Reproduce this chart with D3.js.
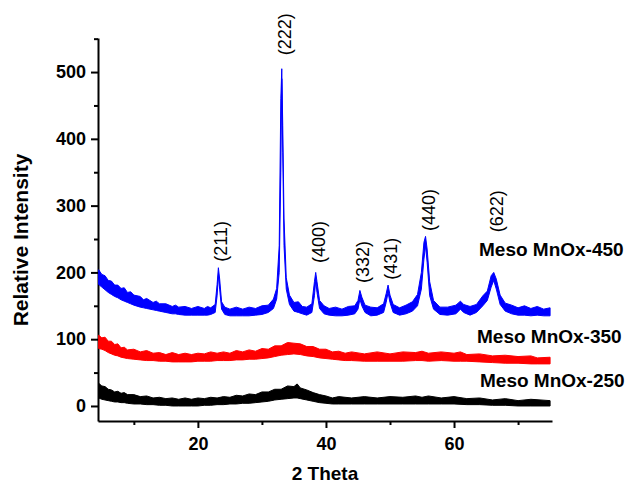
<!DOCTYPE html>
<html>
<head>
<meta charset="utf-8">
<script src="https://cdn.jsdelivr.net/npm/d3@7"></script>
<style>
  body { margin: 0; background: #fff; }
  svg { display: block; font-family: "Liberation Sans", Arial, sans-serif; }
  .axis path, .axis line { stroke: #000; stroke-width: 2; }
  .axis text { font-size: 18px; font-weight: bold; fill: #000; }
</style>
</head>
<body>
<div id="chart"></div>
<script>
// XRD patterns, each row: [2theta, low edge of noise band, high edge of noise band]
var meso450 = [
  [4.5,182,204],[5,178,197],[5.5,174,195],[6,170,188],[6.5,167,187],[7,164,181],[7.5,162,181],
  [8,159,176],[8.5,157,177],[9,155,170],[9.5,153,171],[10,151,166],[11,148,164],[11.5,147,159],
  [12,146,161],[13,144,155],[13.5,143,157],[14,142,153],[15,140,153],[16,138,149],[16.5,138,151],
  [17,137,148],[18,136,149],[19,136,146],[20,136,149],[21,136,146],[21.5,136,149],[22,137,147],
  [22.7,140,152],[23.0,165,182],[23.2,195,207],[23.4,175,190],[23.7,145,156],[24.2,137,148],
  [25,135,145],[26,135,148],[27,135,145],[28,135,148],[29,136,146],[30,137,150],[31,140,151],
  [31.8,146,160],[32.3,160,176],[32.7,200,240],[32.95,350,460],[33.1,490,505],[33.25,380,420],
  [33.45,240,280],[33.8,175,192],[34.3,152,166],[35,142,155],[35.7,140,156],[36.3,138,149],
  [37,136,148],[37.8,140,153],[38.2,165,186],[38.4,188,200],[38.6,170,186],[39,146,158],
  [39.7,138,150],[40.5,136,146],[41.5,135,148],[42.5,135,145],[43.5,136,149],[44.5,138,150],
  [45.0,145,158],[45.3,160,173],[45.6,150,163],[46.1,140,151],[47,135,148],[48,136,147],
  [49,140,153],[49.4,155,168],[49.7,170,181],[50.0,155,166],[50.5,140,152],[51.5,136,147],
  [52.5,138,151],[53.5,142,156],[54.3,150,167],[54.9,175,200],[55.3,220,245],[55.55,240,254],
  [55.8,215,235],[56.2,165,186],[56.8,145,158],[57.8,137,148],[59,136,148],[60.3,138,151],
  [61,145,157],[61.5,140,152],[62.5,136,149],[63.5,140,152],[64.5,150,165],[65.2,158,172],
  [65.8,178,195],[66.2,188,200],[66.6,175,190],[67.2,152,166],[68,142,154],[69,138,151],
  [70,136,147],[71,136,150],[72,135,146],[73,136,149],[74,135,145],[75,135,147]
];
var meso350 = [
  [4.5,86,106],[5,85,102],[5.5,83,103],[6,80,97],[6.5,78,97],[7,76,92],[7.5,75,93],[8,73,87],
  [8.5,72,88],[9,71,84],[10,70,85],[11,69,81],[12,68,83],[13,68,79],[14,67,80],[15,67,77],
  [16,66,80],[17,66,77],[18,66,79],[19,66,77],[20,67,79],[21,67,78],[22,67,81],[23,68,79],
  [24,68,81],[25,68,79],[26,69,83],[27,69,81],[28,70,84],[29,70,82],[30,71,86],[31,72,85],
  [32,74,90],[33,76,90],[34,77,95],[35,78,94],[36,77,93],[37,75,89],[38,74,89],[39,72,85],
  [40,71,85],[41,70,81],[42,69,82],[43,68,79],[44,68,81],[46,67,78],[48,67,81],[50,67,78],
  [52,67,81],[54,68,80],[55,68,82],[56,67,79],[58,68,81],[60,67,79],[61,67,81],[62,67,77],
  [64,66,78],[66,65,75],[68,64,76],[70,64,74],[72,63,75],[73,63,72],[75,63,73]
];
var meso250 = [
  [4.5,12,34],[5,10,30],[5.5,9,29],[6,8,25],[6.5,7,24],[7,6,21],[7.5,6,22],[8,5,19],[8.5,5,20],
  [9,4,17],[10,3,17],[11,3,14],[12,2,15],[13,2,12],[14,1,13],[15,1,11],[16,0,12],[17,0,10],
  [18,0,12],[19,0,10],[20,0,12],[21,1,11],[22,1,13],[23,2,12],[24,2,14],[25,3,13],[26,3,16],
  [27,4,15],[28,4,18],[29,5,17],[30,6,21],[31,7,21],[32,9,25],[33,10,25],[34,11,30],[35,12,29],
  [35.5,12,33],[36,11,27],[37,9,24],[38,7,20],[39,5,17],[40,4,15],[41,3,12],[42,3,14],[44,3,12],
  [46,3,14],[48,3,12],[50,3,14],[52,3,13],[54,3,15],[55,3,13],[56,3,15],[58,3,12],[60,3,14],
  [62,2,11],[64,2,12],[66,1,9],[68,1,11],[70,0,8],[72,0,10],[75,0,8]
];

var seriesNames = ["Meso MnOx-450", "Meso MnOx-350", "Meso MnOx-250"];
var seriesColors = ["#0000ff", "#ff0000", "#000000"];

var peakHkl = ["(211)", "(222)", "(400)", "(332)", "(431)", "(440)", "(622)"];
var peakTheta = [23.2, 33.1, 38.4, 45.3, 49.7, 55.55, 66.2];
var peakLabelBase = [216, 525, 214, 184, 189, 262, 260];

var xMajor = [20, 40, 60];
var xMinor = [10, 30, 50, 70];
var yMajor = [0, 100, 200, 300, 400, 500];
var yMinor = [50, 150, 250, 350, 450, 550];

var W = 627, H = 486;
var svg = d3.select("#chart").append("svg")
  .attr("width", W)
  .attr("height", H);

var x = d3.scaleLinear().domain([4.4, 75.3]).range([98, 552]);
var y = d3.scaleLinear().domain([-22.5, 551]).range([421, 38]);

// minor ticks first, then major axes with domain lines
svg.append("g").attr("class", "axis")
  .attr("transform", "translate(0,421)")
  .call(d3.axisBottom(x).tickValues(xMinor).tickSize(4).tickFormat(""))
  .select(".domain").remove();
svg.append("g").attr("class", "axis")
  .attr("transform", "translate(98,0)")
  .call(d3.axisLeft(y).tickValues(yMinor).tickSize(4).tickFormat(""))
  .select(".domain").remove();

svg.append("g").attr("class", "axis")
  .attr("transform", "translate(0,421)")
  .call(d3.axisBottom(x).tickValues(xMajor).tickSize(7).tickSizeOuter(0).tickPadding(9));
svg.append("g").attr("class", "axis")
  .attr("transform", "translate(98,0)")
  .call(d3.axisLeft(y).tickValues(yMajor).tickSize(7).tickSizeOuter(0).tickPadding(5));

// patterns drawn as noise bands
var band = d3.area()
  .x(function(d) { return x(d[0]); })
  .y0(function(d) { return y(d[1]); })
  .y1(function(d) { return y(d[2]); });

[meso450, meso350, meso250].forEach(function(s, i) {
  svg.append("path")
    .datum(s)
    .attr("d", band)
    .attr("fill", seriesColors[i])
    .attr("stroke", seriesColors[i])
    .attr("stroke-width", 1);
});

// peak labels
svg.append("g").selectAll("text")
  .data(peakHkl)
  .enter().append("text")
  .attr("transform", function(d, i) {
    return "translate(" + (x(peakTheta[i]) + 9) + "," + y(peakLabelBase[i]) + ") rotate(-90)";
  })
  .attr("font-size", "18px")
  .attr("fill", "#000")
  .text(function(d) { return d; });

// series labels
var legendY = [256, 343, 387];
var legendX = [479, 477, 480];
svg.append("g").selectAll("text")
  .data(seriesNames)
  .enter().append("text")
  .attr("x", function(d, i) { return legendX[i]; })
  .attr("y", function(d, i) { return legendY[i]; })
  .attr("font-size", "19px")
  .attr("font-weight", "bold")
  .text(function(d) { return d; });

// axis titles
svg.append("text")
  .attr("transform", "translate(28,240) rotate(-90)")
  .attr("text-anchor", "middle")
  .attr("font-size", "21px")
  .attr("font-weight", "bold")
  .text("Relative Intensity");

svg.append("text")
  .attr("x", 325)
  .attr("y", 480)
  .attr("text-anchor", "middle")
  .attr("font-size", "19px")
  .attr("font-weight", "bold")
  .text("2 Theta");
</script>
</body>
</html>
